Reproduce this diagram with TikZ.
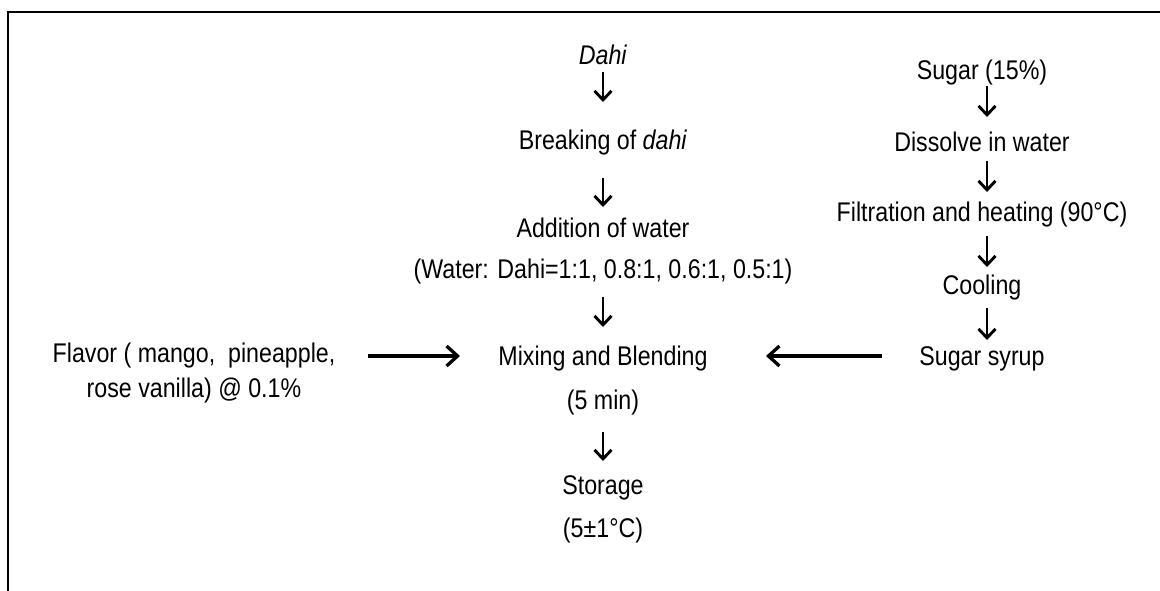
\documentclass[tikz,border=0pt]{standalone}
\usepackage{fontspec}
\setmainfont{Liberation Sans}[FakeStretch=0.86]
\usetikzlibrary{arrows.meta,calc}
\newcommand\labfont{\fontsize{27pt}{42pt}\selectfont}
\begin{document}
\begin{tikzpicture}[x=1pt,y=-1pt,
  lbl/.style={inner sep=0pt, anchor=base, font=\labfont, align=center},
  varr/.style={line width=2.9pt, -{Straight Barb[length=9pt,width=17pt]}},
  harr/.style={line width=3.3pt, -{Straight Barb[length=11pt,width=20pt]}},
  frame/.style={line width=2.6pt}]
\useasboundingbox (0,0) rectangle (1160,590);
\clip (0,0) rectangle (1160,590);
\draw[frame] (8,600) -- (8,12) -- (1170,12);
% middle column (base = baseline of last line)
\node[lbl] (dahi) at (603,64.5) {\textit{Dahi}};
\node[lbl] (brk) at (603,149) {Breaking of \textit{dahi}};
\node[lbl] (add) at (603,278) {Addition of water\\[-1pt](Water: Dahi=1:1, 0.8:1, 0.6:1, 0.5:1)};
\node[lbl] (mix) at (603,409) {Mixing and Blending\\[2pt](5 min)};
\node[lbl] (sto) at (603,537.5) {Storage\\[1pt](5±1°C)};
% left
\node[lbl] (flav) at (194,397) {Flavor ( mango,\ \ pineapple,\\[-7pt]rose vanilla) @ 0.1\%};
% right column
\node[lbl] (s1) at (982,79) {Sugar (15\%)};
\node[lbl] (s2) at (982,151.5) {Dissolve in water};
\node[lbl] (s3) at (982,221.5) {Filtration and heating (90°C)};
\node[lbl] (s4) at (982,294) {Cooling};
\node[lbl] (s5) at (982,365) {Sugar syrup};
% arrows middle
\draw[varr] ($(dahi.base)+(0,7.5)$) -- ($(brk.base)+(0,-47)$);
\draw[varr] ($(brk.base)+(0,29)$) -- ($(add.base)+(0,-71)$);
\draw[varr] ($(add.base)+(0,19)$) -- ($(mix.base)+(0,-82)$);
\draw[varr] ($(mix.base)+(0,23)$) -- ($(sto.base)+(0,-76.5)$);
% arrows right
\draw[varr] ($(s1.base)+(5,7)$) -- ($(s2.base)+(5,-34.5)$);
\draw[varr] ($(s2.base)+(5,9.5)$) -- ($(s3.base)+(5,-29.5)$);
\draw[varr] ($(s3.base)+(5,14.5)$) -- ($(s4.base)+(5,-27)$);
\draw[varr] ($(s4.base)+(5,14)$) -- ($(s5.base)+(5,-25)$);
% horizontal arrows
\draw[harr] ($(flav.base)+(174,-41)$) -- ($(mix.base)+(-143,-53)$);
\draw[harr] ($(s5.base)+(-100,-9)$) -- ($(mix.base)+(163,-53)$);
\end{tikzpicture}
\end{document}
